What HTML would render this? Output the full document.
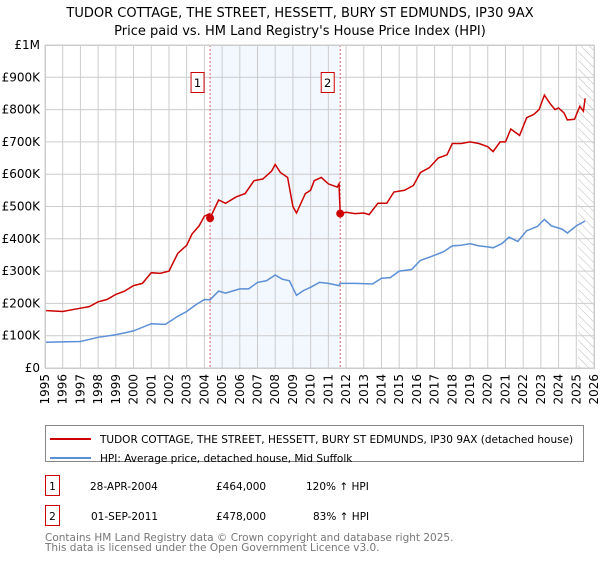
<!DOCTYPE html>
<html><head><meta charset="utf-8"><style>
body{margin:0;background:#fff;font-family:"Liberation Sans","DejaVu Sans",sans-serif;}
svg text{font-family:"DejaVu Sans","Liberation Sans",sans-serif;}
</style></head><body>
<svg id="c" width="600" height="560" viewBox="0 0 600 560">
<text x="300" y="17" text-anchor="middle" font-size="13">TUDOR COTTAGE, THE STREET, HESSETT, BURY ST EDMUNDS, IP30 9AX</text>
<text x="300" y="35" text-anchor="middle" font-size="13">Price paid vs. HM Land Registry's House Price Index (HPI)</text>
<g id="plot"></g>
<g>
<rect x="45.5" y="425.5" width="538" height="36" fill="#fff" stroke="#888"/>
<line x1="50" y1="439" x2="91" y2="439" stroke="#cc0000" stroke-width="2"/>
<text x="100" y="443" font-size="10.5">TUDOR COTTAGE, THE STREET, HESSETT, BURY ST EDMUNDS, IP30 9AX (detached house)</text>
<line x1="50" y1="458" x2="91" y2="458" stroke="#5b8fd6" stroke-width="2"/>
<text x="100" y="462" font-size="10.5">HPI: Average price, detached house, Mid Suffolk</text>
</g>
<g font-size="10.5">
<rect x="45.5" y="475.5" width="14" height="20" fill="#fff" stroke="#cc0000"/>
<text x="52.5" y="490" text-anchor="middle">1</text>
<text x="90" y="490">28-APR-2004</text><text x="216" y="490">£464,000</text><text x="306" y="490">120% ↑ HPI</text>
<rect x="45.5" y="505.5" width="14" height="20" fill="#fff" stroke="#cc0000"/>
<text x="52.5" y="520" text-anchor="middle">2</text>
<text x="91" y="520">01-SEP-2011</text><text x="216" y="520">£478,000</text><text x="313" y="520">83% ↑ HPI</text>
</g>
<text x="45" y="541" font-size="10.5" fill="#777">Contains HM Land Registry data © Crown copyright and database right 2025.</text>
<text x="45" y="551" font-size="10.5" fill="#777">This data is licensed under the Open Government Licence v3.0.</text>
</svg>
<script>
const years=[1995,1996,1997,1998,1999,2000,2001,2002,2003,2004,2005,2006,2007,2008,2009,2010,2011,2012,2013,2014,2015,2016,2017,2018,2019,2020,2021,2022,2023,2024,2025,2026];
const yTicks=[0,100,200,300,400,500,600,700,800,900,1000];
const yTickLabels=["£0","£100K","£200K","£300K","£400K","£500K","£600K","£700K","£800K","£900K","£1M"];
const redT=[1995,1996,1997,1997.5,1998,1998.5,1999,1999.5,2000,2000.5,2001,2001.5,2002,2002.5,2003,2003.3,2003.7,2004,2004.3,2004.32,2004.8,2005.2,2005.8,2006.3,2006.8,2007.3,2007.8,2008,2008.3,2008.7,2009,2009.2,2009.7,2010,2010.2,2010.6,2011,2011.5,2011.6,2011.67,2012,2012.5,2013,2013.3,2013.8,2014.3,2014.7,2015.3,2015.8,2016.2,2016.7,2017.2,2017.7,2018,2018.5,2019,2019.5,2020,2020.3,2020.7,2021,2021.3,2021.8,2022.2,2022.6,2022.9,2023.2,2023.5,2023.8,2024,2024.3,2024.5,2024.9,2025.2,2025.4,2025.5];
const redV=[178,175,185,190,205,212,228,238,255,262,295,293,300,355,380,415,440,470,478,464,520,510,530,540,580,585,610,630,605,590,500,480,540,550,580,590,570,560,570,478,482,478,480,475,510,510,545,550,565,605,620,650,660,695,695,700,695,685,670,700,700,740,720,775,785,800,845,820,800,805,790,768,770,810,795,835];
const blueT=[1995,1997,1998,1999,2000,2001,2001.8,2002.5,2003,2003.5,2004,2004.32,2004.8,2005.2,2006,2006.5,2007,2007.5,2008,2008.4,2008.8,2009.2,2009.6,2010,2010.5,2011,2011.6,2011.67,2012.5,2013.5,2014,2014.5,2015,2015.7,2016.2,2016.8,2017.5,2018,2018.5,2019,2019.5,2020,2020.3,2020.8,2021.2,2021.7,2022.2,2022.8,2023.2,2023.6,2024.2,2024.5,2025,2025.5];
const blueV=[80,82,95,103,115,137,135,160,175,195,212,211,238,232,245,245,265,270,288,275,270,225,240,250,265,262,255,262,262,260,278,280,300,305,333,345,360,378,380,385,378,375,372,385,405,392,425,438,460,440,430,418,440,455];
const saleT=[2004.32,2011.67];
const saleV=[464,478];
const saleLabels=["1","2"];
const X0=45,X1=594,Y0=368,Y1=45;
const xs=t=>X0+(t-1995)/(2026-1995)*(X1-X0);
const ys=v=>Y0-v/1000*(Y0-Y1);
const NS="http://www.w3.org/2000/svg";
const g=document.getElementById('plot');
function mk(tag,attrs,parent){const e=document.createElementNS(NS,tag);for(const k in attrs)e.setAttribute(k,attrs[k]);(parent||g).appendChild(e);return e;}
let sh=mk('rect',{x:xs(saleT[0]),y:Y1,width:xs(saleT[1])-xs(saleT[0]),height:Y0-Y1,fill:'#eef3fd',opacity:0.7});


const defs=mk('defs',{});
const pat=mk('pattern',{id:'h',width:6,height:6,patternUnits:'userSpaceOnUse',patternTransform:'rotate(-45)'},defs);
mk('line',{x1:0,y1:0,x2:0,y2:6,stroke:'#bbb','stroke-width':1},pat);
let ht=mk('rect',{x:xs(2025.1),y:Y1,width:X1-xs(2025.1),height:Y0-Y1,fill:'url(#h)'});


years.forEach((y,i)=>{
  const x=xs(y);
  const l=mk('line',{x1:x,y1:Y1,x2:x,y2:Y0,stroke:'#ccc','stroke-width':1});
  
  
  const t=mk('text',{x:0,y:0,'font-size':12,'text-anchor':'end',transform:`translate(${x+4},${Y0+6}) rotate(-90)`});
  t.textContent=y;
  
  
});
yTicks.forEach((v,i)=>{
  const y=ys(v);
  const l=mk('line',{x1:X0,y1:y,x2:X1,y2:y,stroke:'#ccc','stroke-width':1});
  
  
  const t=mk('text',{x:X0-5,y:y+4,'font-size':12,'text-anchor':'end'});
  t.textContent=yTickLabels[i];
  
  
});
saleT.forEach((t,i)=>{
  const l=mk('line',{x1:xs(t),y1:Y1,x2:xs(t),y2:Y0,stroke:'#e06060','stroke-dasharray':'2,2','stroke-width':1});
  
  
});
const path=(T,V)=>T.map((t,i)=>(i?'L':'M')+xs(t).toFixed(1)+','+ys(V[i]).toFixed(1)).join('');
const bl=mk('path',{d:path(blueT,blueV),fill:'none',stroke:'#5b8fd6','stroke-width':1.5});


const rl=mk('path',{d:path(redT,redV),fill:'none',stroke:'#cc0000','stroke-width':1.5});


saleT.forEach((t,i)=>{
  const c=mk('circle',{cx:xs(t),cy:ys(saleV[i]),r:4,fill:'#cc0000'});
  
  
  const bx=xs(t)-13;
  const r=mk('rect',{x:bx-6,y:72.5,width:13,height:20,fill:'#fff',stroke:'#cc0000'});
  
  
  const tx=mk('text',{x:bx+0.5,y:87,'font-size':11.5,'text-anchor':'middle'});
  tx.textContent=saleLabels[i];
  
  
});
const ax=mk('rect',{x:X0+0.5,y:Y1+0.5,width:X1-X0,height:Y0-Y1,fill:'none',stroke:'#ccc'});


</script>
</body></html>
